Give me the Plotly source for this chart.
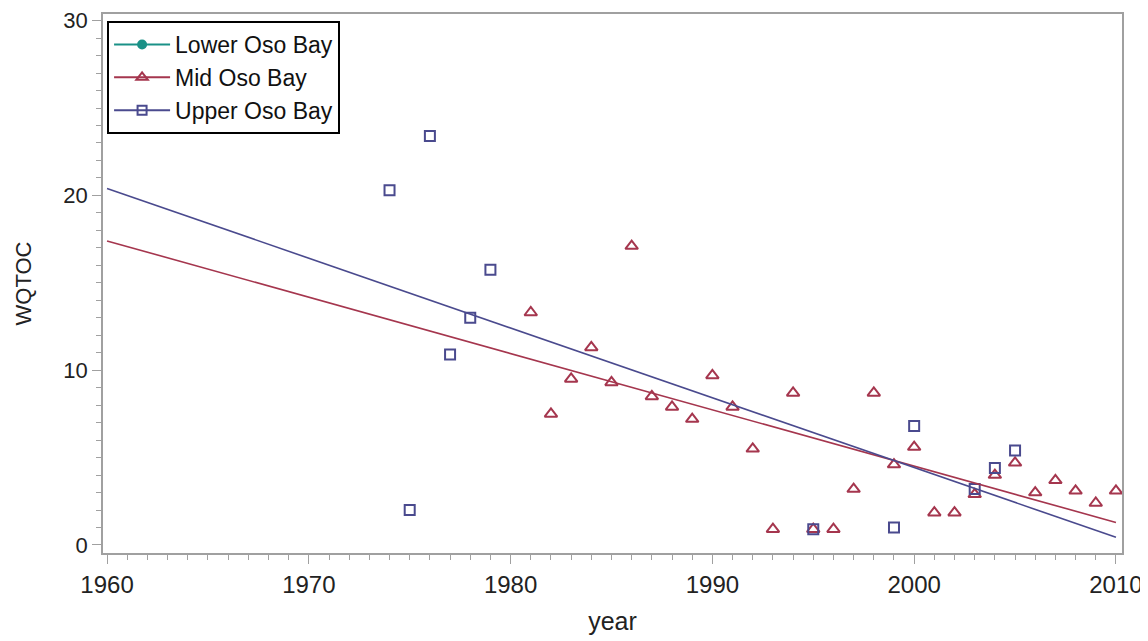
import numpy as np
import plotly.graph_objects as go

# ---- data ----
upper_years = [1974, 1975, 1976, 1977, 1978, 1979, 1995, 1999, 2000, 2003, 2004, 2005]
upper_vals = [20.3, 2.0, 23.4, 10.9, 13.0, 15.75, 0.9, 1.0, 6.8, 3.2, 4.4, 5.4]

mid_years = [1981, 1982, 1983, 1984, 1985, 1986, 1987, 1988, 1989, 1990,
             1991, 1992, 1993, 1994, 1995, 1996, 1997, 1998, 1999, 2000,
             2001, 2002, 2003, 2004, 2005, 2006, 2007, 2008, 2009, 2010]
mid_vals = [13.3, 7.5, 9.5, 11.3, 9.3, 17.1, 8.5, 7.9, 7.2, 9.7,
            7.9, 5.5, 0.9, 8.7, 0.9, 0.9, 3.2, 8.7, 4.6, 5.6,
            1.85, 1.85, 2.9, 4.0, 4.7, 3.0, 3.7, 3.1, 2.4, 3.1]

lower_years = [None]
lower_vals = [None]

fit_range = [1960, 2010]
x_ticks = [1960, 1970, 1980, 1990, 2000, 2010]
y_ticks = [0, 10, 20, 30]

C_LOWER = "#1A9187"
C_MID = "#A5364E"
C_UPPER = "#4A4A8E"
FONT = "Liberation Sans, Arial, sans-serif"

def fit_line(xs, ys):
    k, b = np.polyfit(xs, ys, 1)
    xr = np.array(fit_range, dtype=float)
    return xr, k * xr + b

fig = go.Figure()

fig.add_trace(go.Scatter(x=lower_years, y=lower_vals, mode="lines+markers",
                         name="Lower Oso Bay",
                         line=dict(color=C_LOWER, width=2),
                         marker=dict(symbol="circle", size=10, color=C_LOWER)))
fig.add_trace(go.Scatter(x=mid_years, y=mid_vals, mode="markers",
                         name="Mid Oso Bay",
                         marker=dict(symbol="triangle-up-open", size=11, color=C_MID,
                                     line=dict(color=C_MID, width=2)),
                         showlegend=False))
fig.add_trace(go.Scatter(x=upper_years, y=upper_vals, mode="markers",
                         name="Upper Oso Bay",
                         marker=dict(symbol="square-open", size=10, color=C_UPPER,
                                     line=dict(color=C_UPPER, width=2)),
                         showlegend=False))

mx, my = fit_line(mid_years, mid_vals)
ux, uy = fit_line(upper_years, upper_vals)
fig.add_trace(go.Scatter(x=mx, y=my, mode="lines", line=dict(color=C_MID, width=1.6),
                         showlegend=False, hoverinfo="skip"))
fig.add_trace(go.Scatter(x=ux, y=uy, mode="lines", line=dict(color=C_UPPER, width=1.6),
                         showlegend=False, hoverinfo="skip"))

# legend entries (line + markers)
fig.add_trace(go.Scatter(x=[None], y=[None], mode="lines+markers", name="Mid Oso Bay",
                         line=dict(color=C_MID, width=2),
                         marker=dict(symbol="triangle-up-open", size=10, color=C_MID,
                                     line=dict(color=C_MID, width=2))))
fig.add_trace(go.Scatter(x=[None], y=[None], mode="lines+markers", name="Upper Oso Bay",
                         line=dict(color=C_UPPER, width=2),
                         marker=dict(symbol="square-open", size=9, color=C_UPPER,
                                     line=dict(color=C_UPPER, width=2))))

axis_common = dict(showline=True, linecolor="#A0A0A0", linewidth=1.5, mirror=True,
                   ticks="outside", tickcolor="#A0A0A0", ticklen=9, tickwidth=1.2,
                   showgrid=False, zeroline=False, automargin=False)

fig.update_xaxes(range=[1959.8, 2010.3], tickvals=x_ticks,
                 title_text="year", title_standoff=16,
                 tickfont=dict(family=FONT, size=24, color="#222222"),
                 title_font=dict(family=FONT, size=25, color="#222222"),
                 minor=dict(dtick=1, tick0=1960, ticks="outside", ticklen=5,
                            tickcolor="#A0A0A0", showgrid=False),
                 **axis_common)
fig.update_yaxes(range=[-0.46, 30.38], tickvals=y_ticks,
                 title_text="WQTOC", title_standoff=26,
                 tickfont=dict(family=FONT, size=22, color="#222222"),
                 title_font=dict(family=FONT, size=22, color="#222222"),
                 minor=dict(dtick=1, tick0=0, ticks="outside", ticklen=5,
                            tickcolor="#A0A0A0", showgrid=False),
                 **axis_common)

# page body has an 8px default margin; size the figure to fit the 1148x641 window
fig.update_layout(
    width=1140, height=633,
    margin=dict(l=95, r=26, t=6, b=88),
    plot_bgcolor="white", paper_bgcolor="white",
    font=dict(family=FONT, color="#222222"),
    legend=dict(x=0.004, y=0.987, xanchor="left", yanchor="top",
                bgcolor="white", bordercolor="black", borderwidth=2,
                font=dict(family=FONT, size=23, color="#111111"),
                tracegroupgap=0, itemwidth=56),
    showlegend=True,
)

fig.write_html("out.html")
